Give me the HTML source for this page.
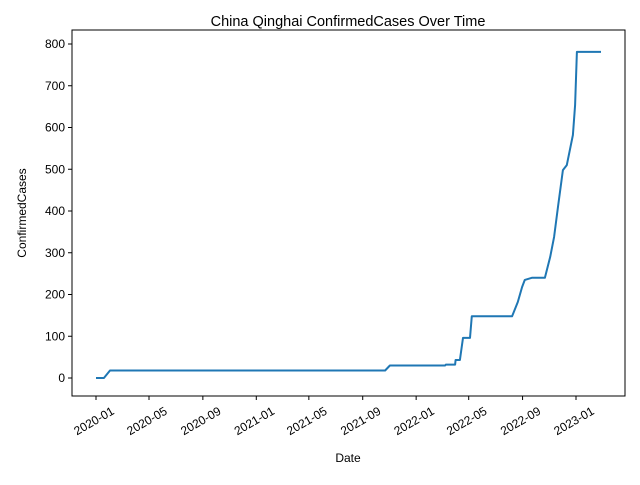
<!DOCTYPE html>
<html><head><meta charset="utf-8"><style>
body{margin:0;background:#fff}
svg{font-family:"Liberation Sans","DejaVu Sans",sans-serif}
</style></head><body>
<svg id="c" width="640" height="480" xmlns="http://www.w3.org/2000/svg"></svg>
<script>
const dates=["2020-01-01","2020-01-19","2020-02-02","2021-10-22","2021-11-02","2022-03-08","2022-03-10","2022-03-31","2022-04-01","2022-04-11","2022-04-18","2022-05-04","2022-05-08","2022-08-08","2022-08-21","2022-08-31","2022-09-06","2022-09-22","2022-10-22","2022-11-03","2022-11-12","2022-11-21","2022-12-02","2022-12-11","2022-12-25","2022-12-30","2023-01-03","2023-02-27"];
const values=[0,0,18,18,30,30,32,32,43,43,96,96,148,148,182,218,235,240,240,290,338,410,498,510,582,654,781,781];
const xTicks=["2020-01","2020-05","2020-09","2021-01","2021-05","2021-09","2022-01","2022-05","2022-09","2023-01"];
const yTicks=[0,100,200,300,400,500,600,700,800];
const NS="http://www.w3.org/2000/svg";
const svg=document.getElementById('c');
const L=72,T=30,R=625,B=396;
const t0=Date.UTC(2020,0,1),t1=Date.UTC(2023,0,1);
function xs(d){const p=d.split('-');const t=Date.UTC(+p[0],+p[1]-1,p[2]?+p[2]:1);return 96+(t-t0)/(t1-t0)*480;}
function ys(v){return 378-v*(378-44)/800;}
function el(tag,attrs,parent){const e=document.createElementNS(NS,tag);for(const k in attrs)e.setAttribute(k,attrs[k]);(parent||svg).appendChild(e);return e;}
const title=el('text',{x:348,y:26,'text-anchor':'middle','font-size':14.5});
title.textContent='China Qinghai ConfirmedCases Over Time';


const frame=el('rect',{x:L,y:T,width:R-L,height:B-T,fill:'none',stroke:'#000','stroke-width':1});


yTicks.forEach(v=>{
 const y=ys(v);
 el('line',{x1:L-4,x2:L,y1:y,y2:y,stroke:'#000'});
 const t=el('text',{x:L-7,y:y+4,'text-anchor':'end','font-size':12});
 t.textContent=v;
 
 
});
xTicks.forEach(d=>{
 const x=xs(d);
 el('line',{x1:x,x2:x,y1:B,y2:B+4,stroke:'#000'});
 const cx=x-2,cy=B+25;
 const t=el('text',{x:cx,y:cy+4,'text-anchor':'middle','font-size':12,transform:`rotate(-30 ${cx} ${cy})`});
 t.textContent=d;
 
 
});
const pts=dates.map((d,i)=>xs(d).toFixed(1)+','+ys(values[i]).toFixed(1)).join(' ');
const line=el('polyline',{points:pts,fill:'none',stroke:'#1f77b4','stroke-width':2,'stroke-linejoin':'round'});


const xt=el('text',{x:348,y:462,'text-anchor':'middle','font-size':12});
xt.textContent='Date';


const yt=el('text',{x:26,y:213,'text-anchor':'middle','font-size':12,transform:'rotate(-90 26 213)'});
yt.textContent='ConfirmedCases';


</script>
</body></html>
